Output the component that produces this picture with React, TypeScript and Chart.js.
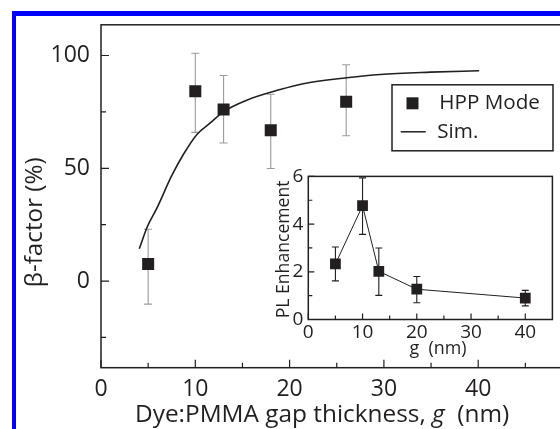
import React, { useEffect, useRef } from "react";
import { Chart, registerables } from "chart.js";
Chart.register(...registerables);

// ---- main chart data ----
const HPP_X = [5, 10, 13, 18, 26];
const HPP_Y = [7.6, 84.1, 76.1, 66.9, 79.5];
const HPP_HI = [23, 101, 91.1, 82.8, 95.9];
const HPP_LO = [-10.2, 65.9, 61.2, 49.9, 64.4];

const SIM_X = [4.06, 4.91, 5.9, 7.5, 8.73, 10.15, 11.56, 13, 15.45, 19, 21.45, 26.05, 29.6, 34.9, 40.1];
const SIM_Y = [14.3, 24.1, 32.1, 46.7, 56.1, 64.9, 70.0, 75.1, 80.2, 84.9, 87.5, 90.1, 91.6, 92.6, 93.2];

const MAIN_X_MAJOR = [0, 10, 20, 30, 40];
const MAIN_X_MINOR = [5, 15, 25, 35, 45];
const MAIN_Y_MAJOR = [0, 50, 100];
const MAIN_Y_MINOR = [-25, 25, 75];

// ---- inset data ----
const PL_X = [5, 10, 13, 20, 40];
const PL_Y = [2.33, 4.77, 2.02, 1.27, 0.9];
const PL_HI = [3.04, 5.94, 3.0, 1.8, 1.22];
const PL_LO = [1.62, 3.57, 1.01, 0.7, 0.57];

const INSET_X_MAJOR = [0, 10, 20, 30, 40];
const INSET_X_MINOR = [5, 15, 25, 35];
const INSET_Y_MAJOR = [0, 2, 4, 6];
const INSET_Y_MINOR = [1, 3, 5];

const INK = "#231f20";
const FONT = "'Open Sans', sans-serif";

// pick a font size so that the text spans the target width
function fitSize(ctx: CanvasRenderingContext2D, text: string, target: number, style = "normal") {
  ctx.font = `${style} 20px ${FONT}`;
  const w = ctx.measureText(text).width;
  return (20 * target) / w;
}

function drawFrameAndTicks(chart: any, xMaj: number[], xMin: number[], yMaj: number[], yMin: number[], majLen: number, minLen: number, lw: number) {
  const { ctx, chartArea: a, scales } = chart;
  const x = scales.x, y = scales.y;
  ctx.save();
  ctx.strokeStyle = INK;
  ctx.lineWidth = lw;
  ctx.strokeRect(a.left, a.top, a.right - a.left, a.bottom - a.top);
  ctx.lineWidth = 1.2;
  ctx.beginPath();
  for (const v of xMaj) { const p = x.getPixelForValue(v); ctx.moveTo(p, a.bottom); ctx.lineTo(p, a.bottom - majLen); }
  for (const v of xMin) { const p = x.getPixelForValue(v); ctx.moveTo(p, a.bottom); ctx.lineTo(p, a.bottom - minLen); }
  for (const v of yMaj) { const p = y.getPixelForValue(v); ctx.moveTo(a.left, p); ctx.lineTo(a.left + majLen, p); }
  for (const v of yMin) { const p = y.getPixelForValue(v); ctx.moveTo(a.left, p); ctx.lineTo(a.left + minLen, p); }
  ctx.stroke();
  ctx.restore();
}

function drawErrors(chart: any, xs: number[], lo: number[], hi: number[], color: string, cap: number) {
  const { ctx, scales } = chart;
  const x = scales.x, y = scales.y;
  ctx.save();
  ctx.strokeStyle = color;
  ctx.lineWidth = 1.1;
  ctx.beginPath();
  xs.forEach((v, i) => {
    const px = x.getPixelForValue(v);
    const pl = y.getPixelForValue(lo[i]);
    const ph = y.getPixelForValue(hi[i]);
    ctx.moveTo(px, pl); ctx.lineTo(px, ph);
    ctx.moveTo(px - cap / 2, pl); ctx.lineTo(px + cap / 2, pl);
    ctx.moveTo(px - cap / 2, ph); ctx.lineTo(px + cap / 2, ph);
  });
  ctx.stroke();
  ctx.restore();
}

const mainPlugin = {
  id: "mainDecor",
  beforeDatasetsDraw(chart: any) {
    drawErrors(chart, HPP_X, HPP_LO, HPP_HI, "#9a9a9a", 8);
  },
  afterDraw(chart: any) {
    const { ctx, chartArea: a } = chart;
    drawFrameAndTicks(chart, MAIN_X_MAJOR, MAIN_X_MINOR, MAIN_Y_MAJOR, MAIN_Y_MINOR, 8, 5, 1.5);
    ctx.save();
    ctx.fillStyle = INK;
    // x title with italic g
    const parts: [string, string][] = [["Dye:PMMA gap thickness, ", "normal"], ["g", "italic"], ["  (nm)", "normal"]];
    const size = fitSize(ctx, "Dye:PMMA gap thickness, g  (nm)", 375);
    const widths = parts.map(([t, s]) => { ctx.font = `${s} ${size}px ${FONT}`; return ctx.measureText(t).width; });
    let cx = a.left + 34;
    ctx.textAlign = "left";
    ctx.textBaseline = "alphabetic";
    parts.forEach(([t, s], i) => { ctx.font = `${s} ${size}px ${FONT}`; ctx.fillText(t, cx, a.bottom + 54.5); cx += widths[i]; });
    // y title
    const ys = fitSize(ctx, "β-factor (%)", 130);
    ctx.save();
    ctx.translate(a.left - 66, a.top + 197.5);
    ctx.rotate(-Math.PI / 2);
    ctx.textAlign = "center";
    ctx.textBaseline = "middle";
    ctx.font = `${ys}px ${FONT}`;
    ctx.fillText("β-factor (%)", 0, 0);
    ctx.restore();
    // legend
    const lx = a.left + 291, ly = a.top + 60, lw = 161, lh = 66;
    ctx.fillStyle = "#ffffff";
    ctx.fillRect(lx, ly, lw, lh);
    ctx.strokeStyle = INK;
    ctx.lineWidth = 1.5;
    ctx.strokeRect(lx, ly, lw, lh);
    ctx.fillStyle = INK;
    ctx.fillRect(lx + 14.5, ly + 12.5, 12, 12);
    ctx.beginPath();
    ctx.lineWidth = 1.5;
    ctx.moveTo(lx + 8.7, ly + 47);
    ctx.lineTo(lx + 33.7, ly + 47);
    ctx.stroke();
    const ls = fitSize(ctx, "HPP Mode", 100.7);
    ctx.font = `${ls}px ${FONT}`;
    ctx.textAlign = "left";
    ctx.textBaseline = "middle";
    ctx.fillText("HPP Mode", lx + 47.3, ly + 18.5);
    ctx.fillText("Sim.", lx + 45.3, ly + 47);
    ctx.restore();
  },
};

const insetPlugin = {
  id: "insetDecor",
  beforeDatasetsDraw(chart: any) {
    drawErrors(chart, PL_X, PL_LO, PL_HI, INK, 7);
  },
  afterDraw(chart: any) {
    const { ctx, chartArea: a } = chart;
    drawFrameAndTicks(chart, INSET_X_MAJOR, INSET_X_MINOR, INSET_Y_MAJOR, INSET_Y_MINOR, 6, 4, 1.5);
    ctx.save();
    ctx.fillStyle = INK;
    ctx.textAlign = "center";
    ctx.textBaseline = "middle";
    ctx.font = `${fitSize(ctx, "g  (nm)", 57)}px ${FONT}`;
    ctx.fillText("g  (nm)", a.left + 129.7, a.bottom + 29.5);
    ctx.font = `${fitSize(ctx, "PL Enhancement", 138)}px ${FONT}`;
    ctx.translate(a.left - 24, a.top + 73);
    ctx.rotate(-Math.PI / 2);
    ctx.fillText("PL Enhancement", 0, 0);
    ctx.restore();
  },
};

export default function App() {
  const mainRef = useRef<HTMLCanvasElement>(null);
  const insetRef = useRef<HTMLCanvasElement>(null);

  useEffect(() => {
    const tickFont = { family: FONT, size: 23 };
    const main = new Chart(mainRef.current!, {
      type: "scatter",
      data: {
        datasets: [
          {
            type: "line",
            label: "Sim.",
            data: SIM_X.map((x, i) => ({ x, y: SIM_Y[i] })),
            borderColor: INK,
            borderWidth: 1.6,
            pointRadius: 0,
            cubicInterpolationMode: "monotone",
            fill: false,
          } as any,
          {
            label: "HPP Mode",
            data: HPP_X.map((x, i) => ({ x, y: HPP_Y[i] })),
            pointStyle: "rect",
            pointRadius: 8.5,
            backgroundColor: INK,
            borderColor: INK,
            borderWidth: 0,
          },
        ],
      },
      options: {
        responsive: false,
        animation: false,
        layout: { padding: { left: 0, top: 20.7, right: 17.5, bottom: 0 } },
        plugins: { legend: { display: false }, tooltip: { enabled: false } },
        scales: {
          x: {
            type: "linear",
            min: 0,
            max: 50,
            grid: { display: false, drawTicks: false },
            border: { display: false },
            ticks: { font: tickFont, color: INK, padding: 8, autoSkip: false, maxRotation: 0 },
            afterBuildTicks: (s: any) => { s.ticks = MAIN_X_MAJOR.map((v) => ({ value: v })); },
            afterFit: (s: any) => { s.height = 61.3; },
          },
          y: {
            type: "linear",
            min: -38.4,
            max: 113.6,
            grid: { display: false, drawTicks: false },
            border: { display: false },
            ticks: { font: tickFont, color: INK, padding: 11 },
            afterBuildTicks: (s: any) => { s.ticks = MAIN_Y_MAJOR.map((v) => ({ value: v })); },
            afterFit: (s: any) => { s.width = 101; },
          },
        },
      } as any,
      plugins: [mainPlugin],
    });

    const insetFont = { family: FONT, size: 19 };
    const inset = new Chart(insetRef.current!, {
      type: "line",
      data: {
        datasets: [
          {
            label: "PL",
            data: PL_X.map((x, i) => ({ x, y: PL_Y[i] })),
            borderColor: INK,
            borderWidth: 1,
            pointStyle: "rect",
            pointRadius: 7.6,
            backgroundColor: INK,
            pointBorderWidth: 0,
            tension: 0,
            fill: false,
          },
        ],
      },
      options: {
        responsive: false,
        animation: false,
        layout: { padding: { left: 0, top: 9.5, right: 6.7, bottom: 0 } },
        plugins: { legend: { display: false }, tooltip: { enabled: false } },
        scales: {
          x: {
            type: "linear",
            min: 0,
            max: 45,
            grid: { display: false, drawTicks: false },
            border: { display: false },
            ticks: { font: insetFont, color: INK, padding: 2, autoSkip: false, maxRotation: 0 },
            afterBuildTicks: (s: any) => { s.ticks = INSET_X_MAJOR.map((v) => ({ value: v })); },
            afterFit: (s: any) => { s.height = 45.5; },
          },
          y: {
            type: "linear",
            min: 0,
            max: 6,
            grid: { display: false, drawTicks: false },
            border: { display: false },
            ticks: { font: insetFont, color: INK, padding: 5 },
            afterBuildTicks: (s: any) => { s.ticks = INSET_Y_MAJOR.map((v) => ({ value: v })); },
            afterFit: (s: any) => { s.width = 46.3; },
          },
        },
      } as any,
      plugins: [insetPlugin],
    });

    return () => {
      main.destroy();
      inset.destroy();
    };
  }, []);

  return (
    <div style={{ position: "fixed", left: 0, top: 0, width: 560, height: 429, overflow: "hidden", background: "#ffffff" }}>
      <div style={{ position: "absolute", left: 12, top: 11, width: 900, height: 900, borderLeft: "4px solid #0000ff", borderTop: "5px solid #0000ff" }} />
      <canvas ref={mainRef} width={590} height={429} style={{ position: "absolute", left: 0, top: 0 }} />
      <canvas ref={insetRef} width={298} height={205} style={{ position: "absolute", left: 262, top: 160 }} />
    </div>
  );
}
